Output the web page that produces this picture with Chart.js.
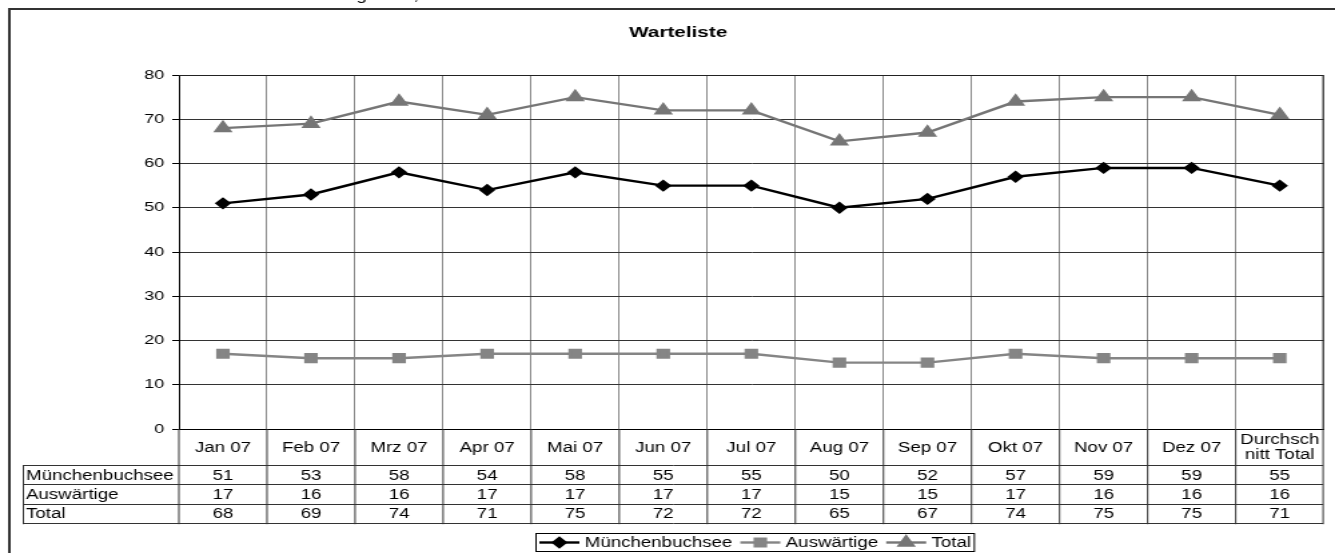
<!DOCTYPE html>
<html>
<head>
<meta charset="utf-8">
<title>Warteliste</title>
<script src="https://cdn.jsdelivr.net/npm/chart.js@4.4.1/dist/chart.umd.min.js"></script>
<style>
  html, body { margin: 0; padding: 0; background: #fff; overflow: hidden; }
  #chart { display: block; }
</style>
</head>
<body>
<canvas id="chart" width="1000" height="553" style="width:1335px;height:553px"></canvas>
<script>
// === Data ===
const categories = ['Jan 07', 'Feb 07', 'Mrz 07', 'Apr 07', 'Mai 07', 'Jun 07', 'Jul 07',
  'Aug 07', 'Sep 07', 'Okt 07', 'Nov 07', 'Dez 07', ['Durchsch', 'nitt Total']];
const muenchenbuchsee = [51, 53, 58, 54, 58, 55, 55, 50, 52, 57, 59, 59, 55];
const auswaertige = [17, 16, 16, 17, 17, 17, 17, 15, 15, 17, 16, 16, 16];
const total = [68, 69, 74, 71, 75, 72, 72, 65, 67, 74, 75, 75, 71];
const yMin = 0, yMax = 80, yStep = 10;

const FONT = "'Liberation Sans', Arial, Helvetica, sans-serif";
Chart.defaults.font.family = FONT;
Chart.defaults.color = '#000';

// === Frame, title, data table and legend ===
const tablePlugin = {
  id: 'excelTable',
  beforeDraw(chart) {
    const ctx = chart.ctx;
    ctx.save();
    // cropped header line above the frame
    ctx.fillStyle = '#000';
    ctx.font = '14px ' + FONT;
    ctx.textBaseline = 'alphabetic';
    const head = 'Auslastung 2007,';
    ctx.fillText(head, 267 - ctx.measureText('Auslastun').width, 0);
    // outer frame
    ctx.strokeStyle = '#333';
    ctx.lineWidth = 2;
    ctx.strokeRect(7, 9, 1100, 600);
    // title
    ctx.font = 'bold 15.5px ' + FONT;
    ctx.textAlign = 'center';
    ctx.textBaseline = 'middle';
    ctx.fillText('Warteliste', 508, 33);
    ctx.restore();
  },
  afterDraw(chart) {
    const ctx = chart.ctx;
    const area = chart.chartArea;
    const x = chart.scales.x;
    const n = categories.length;
    const w = (area.right - area.left) / n;
    const rows = chart.data.datasets;
    const headBottom = 465, rowH = 19.4;
    const tableBottom = headBottom + rowH * rows.length;
    const tableLeft = 17.5;

    ctx.save();
    // plot border top/right
    ctx.strokeStyle = '#222';
    ctx.lineWidth = 1;
    ctx.beginPath();
    ctx.moveTo(area.left, area.top + 0.5);
    ctx.lineTo(area.right - 0.5, area.top + 0.5);
    ctx.lineTo(area.right - 0.5, area.bottom);
    ctx.stroke();

    // table lines
    ctx.strokeStyle = '#333';
    ctx.beginPath();
    for (let i = 0; i <= rows.length; i++) {
      const y = Math.round(headBottom + rowH * i) + 0.5;
      ctx.moveTo(tableLeft, y);
      ctx.lineTo(area.right - 0.5, y);
    }
    ctx.moveTo(tableLeft, headBottom);
    ctx.lineTo(tableLeft, tableBottom + 1);
    for (let i = 0; i <= n; i++) {
      const bx = Math.min(area.left + w * i, area.right - 0.5);
      ctx.moveTo(bx, area.bottom);
      ctx.lineTo(bx, tableBottom + 1);
    }
    ctx.stroke();

    // category labels
    ctx.fillStyle = '#000';
    ctx.font = '14px ' + FONT;
    ctx.textAlign = 'center';
    ctx.textBaseline = 'middle';
    categories.forEach((c, i) => {
      const cx = x.getPixelForValue(i);
      if (Array.isArray(c)) {
        ctx.fillText(c[0], cx, 440);
        ctx.fillText(c[1], cx, 455);
      } else {
        ctx.fillText(c, cx, 448);
      }
    });

    // data rows
    rows.forEach((ds, r) => {
      const cy = headBottom + rowH * r + rowH / 2 + 1;
      ctx.textAlign = 'left';
      ctx.fillText(ds.label, tableLeft + 2, cy);
      ctx.textAlign = 'center';
      ds.data.forEach((v, i) => ctx.fillText(String(v), x.getPixelForValue(i), cy));
    });

    // legend
    ctx.font = '14px ' + FONT;
    const boxTop = 533.5, boxH = 18;
    const ly = boxTop + boxH / 2;
    let lx = 404;
    const startX = 401;
    rows.forEach((ds, r) => {
      ctx.strokeStyle = ds.borderColor;
      ctx.lineWidth = ds.borderWidth;
      ctx.beginPath();
      ctx.moveTo(lx, ly);
      ctx.lineTo(lx + 30, ly);
      ctx.stroke();
      ctx.fillStyle = ds.pointBackgroundColor;
      ctx.strokeStyle = ds.pointBorderColor;
      Chart.helpers.drawPoint(ctx, {
        pointStyle: ds.pointStyle, radius: ds.pointRadius, rotation: 0, borderWidth: 1
      }, lx + 15, ly);
      ctx.fillStyle = '#000';
      ctx.textAlign = 'left';
      ctx.fillText(ds.label, lx + 34, ly + 0.5);
      lx += 34 + ctx.measureText(ds.label).width + 6;
    });
    ctx.strokeStyle = '#000';
    ctx.lineWidth = 1;
    ctx.strokeRect(startX + 0.5, boxTop, lx - 6 + 2 - startX, boxH);
    ctx.restore();
  }
};

// === Chart ===
new Chart(document.getElementById('chart'), {
  type: 'line',
  data: {
    labels: categories,
    datasets: [
      {
        label: 'Münchenbuchsee',
        data: muenchenbuchsee,
        borderColor: '#000',
        borderWidth: 2.4,
        pointStyle: 'rectRot',
        pointRadius: 4.5,
        pointBackgroundColor: '#000',
        pointBorderColor: '#000',
        tension: 0
      },
      {
        label: 'Auswärtige',
        data: auswaertige,
        borderColor: '#858585',
        borderWidth: 2.4,
        pointStyle: 'rect',
        pointRadius: 5.5,
        pointBackgroundColor: '#858585',
        pointBorderColor: '#858585',
        tension: 0
      },
      {
        label: 'Total',
        data: total,
        borderColor: '#767676',
        borderWidth: 2.4,
        pointStyle: 'triangle',
        pointRadius: 6,
        pointBackgroundColor: '#767676',
        pointBorderColor: '#767676',
        tension: 0
      }
    ]
  },
  options: {
    responsive: false,
    animation: false,
    layout: { padding: { top: 75, right: 0.5, left: 0, bottom: 0 } },
    plugins: {
      legend: { display: false },
      title: { display: false },
      tooltip: { enabled: false }
    },
    scales: {
      x: {
        offset: true,
        ticks: { display: false },
        grid: { offset: true, color: '#8a8a8a', drawTicks: false },
        border: { color: '#000', width: 1 },
        afterFit: (scale) => { scale.height = 124; }
      },
      y: {
        min: yMin,
        max: yMax,
        ticks: { stepSize: yStep, padding: 6, font: { size: 13.5 }, color: '#000' },
        grid: { color: '#333', tickLength: 5, tickColor: '#000' },
        border: { color: '#000', width: 1 },
        afterFit: (scale) => { scale.width = 134; }
      }
    }
  },
  plugins: [tablePlugin]
});
</script>
</body>
</html>
